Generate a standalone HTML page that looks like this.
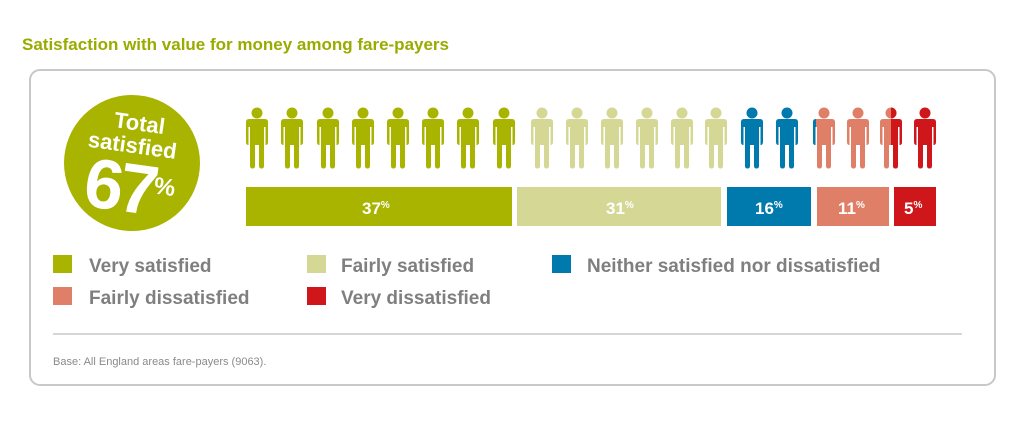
<!DOCTYPE html>
<html><head><style>
body{margin:0;width:1023px;height:419px;background:#fff;font-family:"Liberation Sans",Arial,sans-serif;overflow:hidden}
</style></head><body>
<svg width="1023" height="419" xmlns="http://www.w3.org/2000/svg" font-family="Liberation Sans, Arial, sans-serif">
<defs>
<g id="p">
<circle cx="0" cy="113" r="5.5"/>
<path d="M-11,122 Q-11,119 -8,119 L8,119 Q11,119 11,122 L11,142 Q11,145 8.5,145 L8.5,127 L7,127 L7,166 Q7,168.5 4.5,168.5 Q2,168.5 2,166 L2,145 L-2,145 L-2,166 Q-2,168.5 -4.5,168.5 Q-7,168.5 -7,166 L-7,127 L-8.5,127 L-8.5,145 Q-11,145 -11,142 Z"/>
</g>
<clipPath id="cl1"><rect x="0" y="100" width="816" height="80"/></clipPath>
<clipPath id="cl2"><rect x="891" y="100" width="100" height="80"/></clipPath>
</defs>
<text x="22" y="50" font-size="17" font-weight="bold" fill="#9aab00">Satisfaction with value for money among fare-payers</text>
<rect x="30" y="70" width="965" height="315" rx="10" fill="none" stroke="#c8c8c8" stroke-width="2"/>
<circle cx="132" cy="163" r="68" fill="#a8b400"/>
<g fill="#fff" font-weight="bold" transform="rotate(8 132 163)">
<text x="134" y="130" font-size="22" text-anchor="middle">Total</text>
<text x="130" y="153" font-size="22" text-anchor="middle">satisfied</text>
<text x="88" y="212" font-size="70" letter-spacing="-4">67</text>
<text x="157" y="190" font-size="24">%</text>
</g>
<g fill="#a8b400">
<use href="#p" x="257"/><use href="#p" x="292"/><use href="#p" x="328"/><use href="#p" x="363"/><use href="#p" x="398"/><use href="#p" x="433"/><use href="#p" x="468"/><use href="#p" x="504"/>
</g>
<g fill="#d5d895">
<use href="#p" x="542"/><use href="#p" x="577"/><use href="#p" x="612"/><use href="#p" x="647"/><use href="#p" x="682"/><use href="#p" x="716"/>
</g>
<g fill="#0079ad">
<use href="#p" x="752"/><use href="#p" x="787"/>
</g>
<g fill="#e07f67">
<use href="#p" x="824"/><use href="#p" x="858"/><use href="#p" x="891"/>
</g>
<g clip-path="url(#cl1)" fill="#0079ad"><use href="#p" x="824"/></g>
<g clip-path="url(#cl2)" fill="#cf171b"><use href="#p" x="891"/></g>
<g fill="#cf171b"><use href="#p" x="925"/></g>
<rect x="246" y="187" width="266" height="39" fill="#a8b400"/>
<rect x="517" y="187" width="204" height="39" fill="#d5d895"/>
<rect x="727" y="187" width="84" height="39" fill="#0079ad"/>
<rect x="817" y="187" width="72" height="39" fill="#e07f67"/>
<rect x="894" y="187" width="42" height="39" fill="#cf171b"/>
<g fill="#fff" font-weight="bold" font-size="17">
<text x="362" y="214">37<tspan font-size="10" dy="-6">%</tspan></text>
<text x="606" y="214">31<tspan font-size="10" dy="-6">%</tspan></text>
<text x="755" y="214">16<tspan font-size="10" dy="-6">%</tspan></text>
<text x="838" y="214">11<tspan font-size="10" dy="-6">%</tspan></text>
<text x="904" y="214">5<tspan font-size="10" dy="-6">%</tspan></text>
</g>
<rect x="53" y="255" width="19" height="18" fill="#a8b400"/>
<rect x="307" y="255" width="19" height="18" fill="#d5d895"/>
<rect x="552" y="255" width="19" height="18" fill="#0079ad"/>
<rect x="53" y="287" width="19" height="18" fill="#e07f67"/>
<rect x="307" y="287" width="19" height="18" fill="#cf171b"/>
<g fill="#7f7f7f" font-size="19" font-weight="bold">
<text x="89" y="272">Very satisfied</text>
<text x="341" y="272">Fairly satisfied</text>
<text x="587" y="272">Neither satisfied nor dissatisfied</text>
<text x="89" y="304">Fairly dissatisfied</text>
<text x="341" y="304">Very dissatisfied</text>
</g>
<line x1="53" y1="334" x2="962" y2="334" stroke="#c8c8c8" stroke-width="1.5"/>
<text x="53" y="365" font-size="11" fill="#8a8a8a">Base: All England areas fare-payers (9063).</text>
</svg>
</body></html>
